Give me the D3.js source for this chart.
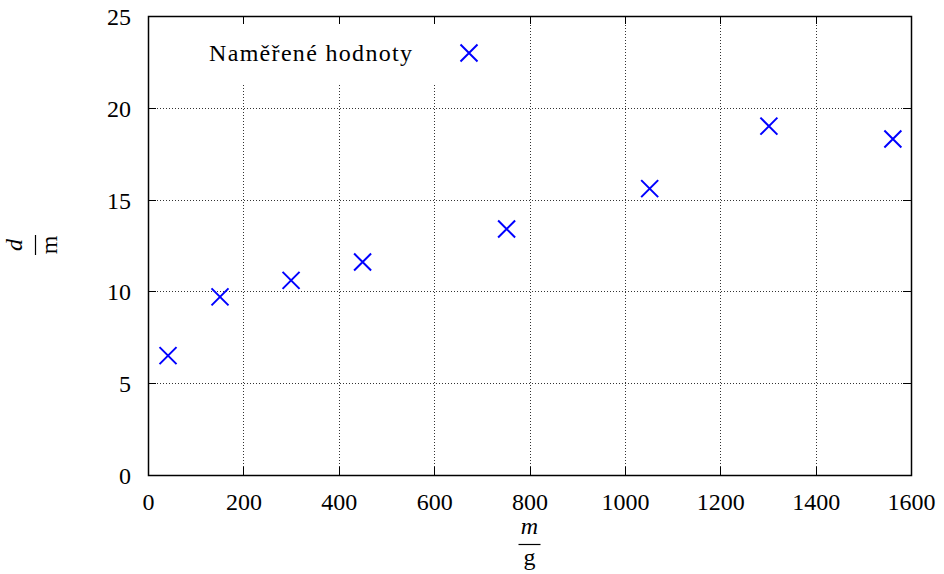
<!DOCTYPE html>
<html>
<head>
<meta charset="utf-8">
<script src="https://cdn.jsdelivr.net/npm/d3@7"></script>
<style>
  body { margin: 0; background: #fff; }
</style>
</head>
<body>
<svg width="944" height="574"></svg>
<script>
// measured mass m [g] vs distance d [m]
const masses = [42, 151, 300, 450, 752, 1052, 1302, 1562];
const distances = [6.5, 9.7, 10.6, 11.6, 13.4, 15.6, 19.0, 18.3];
const xTicks = [0, 200, 400, 600, 800, 1000, 1200, 1400, 1600];
const yTicks = [0, 5, 10, 15, 20, 25];
const legendLabel = "Naměřené hodnoty";

const FONT = "'Liberation Serif', 'DejaVu Serif', serif";

const svg = d3.select("svg");
const margin = { top: 16, right: 33, bottom: 99, left: 148 };
const width = +svg.attr("width");
const height = +svg.attr("height");
const innerWidth = width - margin.left - margin.right;
const innerHeight = height - margin.top - margin.bottom;

const data = masses.map((m, i) => ({ m, d: distances[i] }));

const xScale = d3.scaleLinear().domain([0, 1600]).range([0, innerWidth]);
const yScale = d3.scaleLinear().domain([0, 25]).range([innerHeight, 0]);

const g = svg.append("g").attr("transform", `translate(${margin.left},${margin.top})`);

// grid
const grid = g.append("g")
  .attr("stroke", "#333")
  .attr("stroke-width", 1)
  .attr("stroke-dasharray", "1,2");
grid.selectAll(".gx").data(xTicks.slice(1, -1)).join("line")
  .attr("x1", d => Math.round(xScale(d)) + 0.5).attr("x2", d => Math.round(xScale(d)) + 0.5)
  .attr("y1", 0).attr("y2", innerHeight);
grid.selectAll(".gy").data(yTicks.slice(1, -1)).join("line")
  .attr("y1", d => Math.round(yScale(d)) + 0.5).attr("y2", d => Math.round(yScale(d)) + 0.5)
  .attr("x1", 0).attr("x2", innerWidth);

// legend box hides grid
g.append("rect")
  .attr("x", 1).attr("y", 1)
  .attr("width", 352).attr("height", 67)
  .attr("fill", "#fff");

// ticks (inner, mirrored)
const tickLen = 8;
const ticks = g.append("g").attr("stroke", "#000").attr("stroke-width", 1);
xTicks.forEach(t => {
  const x = Math.round(xScale(t)) + 0.5;
  ticks.append("line").attr("x1", x).attr("x2", x).attr("y1", innerHeight).attr("y2", innerHeight - tickLen);
  ticks.append("line").attr("x1", x).attr("x2", x).attr("y1", 0).attr("y2", tickLen);
});
yTicks.forEach(t => {
  const y = Math.round(yScale(t)) + 0.5;
  ticks.append("line").attr("x1", 0).attr("x2", tickLen).attr("y1", y).attr("y2", y);
  ticks.append("line").attr("x1", innerWidth).attr("x2", innerWidth - tickLen).attr("y1", y).attr("y2", y);
});

// tick labels via axes
const xAxis = d3.axisBottom(xScale).tickValues(xTicks).tickFormat(d3.format("d")).tickSize(0).tickPadding(0);
const xAxisG = g.append("g").attr("transform", `translate(0,${innerHeight})`).call(xAxis)
  .attr("font-family", FONT).attr("font-size", 24);
xAxisG.select(".domain").remove();
xAxisG.selectAll("text").attr("dy", null).attr("y", 35);

const yAxis = d3.axisLeft(yScale).tickValues(yTicks).tickFormat(d3.format("d")).tickSize(0).tickPadding(17);
const yAxisG = g.append("g").call(yAxis)
  .attr("font-family", FONT).attr("font-size", 24);
yAxisG.select(".domain").remove();
yAxisG.selectAll("text").attr("dy", "0.35em");

// frame
g.append("rect")
  .attr("x", 0.5).attr("y", 0.5)
  .attr("width", innerWidth).attr("height", innerHeight)
  .attr("fill", "none").attr("stroke", "#000").attr("stroke-width", 1.5);

// markers
const cross = (sel, r) => sel.attr("d", `M${-r},${-r}L${r},${r}M${-r},${r}L${r},${-r}`);
g.selectAll(".pt").data(data).join("path")
  .attr("class", "pt")
  .attr("transform", d => `translate(${xScale(d.m)},${yScale(d.d)})`)
  .call(cross, 8.5)
  .attr("fill", "none").attr("stroke", "#0000ff").attr("stroke-width", 2);

// legend
g.append("text")
  .attr("x", 61).attr("y", 37 + 8)
  .attr("font-family", FONT).attr("font-size", 24)
  .attr("textLength", 203).attr("lengthAdjust", "spacing")
  .text(legendLabel);
g.append("path")
  .attr("transform", "translate(321,37)")
  .call(cross, 8.5)
  .attr("fill", "none").attr("stroke", "#0000ff").attr("stroke-width", 2);

// x axis label: m / g
const xl = svg.append("g").attr("transform", `translate(${margin.left + innerWidth / 2},0)`)
  .attr("font-family", FONT).attr("font-size", 24);
xl.append("text").attr("y", 534).attr("text-anchor", "middle")
  .attr("font-style", "italic").text("m");
xl.append("line").attr("x1", -11).attr("x2", 11).attr("y1", 544.5).attr("y2", 544.5)
  .attr("stroke", "#000").attr("stroke-width", 1.2);
xl.append("text").attr("y", 565).attr("text-anchor", "middle").text("g");

// y axis label: d / m (rotated)
const yl = svg.append("g").attr("transform", "translate(0,245) rotate(-90)")
  .attr("font-family", FONT).attr("font-size", 24);
yl.append("text").attr("x", 0).attr("y", 22).attr("text-anchor", "middle")
  .attr("font-style", "italic").text("d");
yl.append("line").attr("x1", -10).attr("x2", 10).attr("y1", 35.5).attr("y2", 35.5)
  .attr("stroke", "#000").attr("stroke-width", 1.2);
yl.append("text").attr("x", 0).attr("y", 57).attr("text-anchor", "middle").text("m");
</script>
</body>
</html>
